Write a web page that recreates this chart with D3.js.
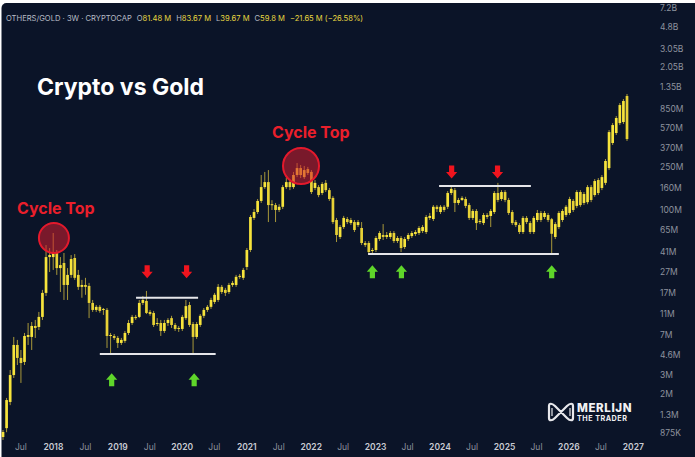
<!DOCTYPE html>
<html><head><meta charset="utf-8">
<script src="https://cdn.jsdelivr.net/npm/d3@7"></script>
<style>body{margin:0;background:#fff}svg{display:block}</style>
</head><body>
<svg id="c" width="695" height="457"></svg>
<script>
// ---- data (values in millions, OTHERS/GOLD, 3W candles) ----
const openV = [0.804,0.97,1.69,2.99,5.66,4.30,3.95,6.71,6.71,8.47,8.29,10.26,17.07,36.5,36.5,39.8,28.9,32.2,20.2,25.0,35.8,25.0,19.4,20.2,19.8,13.8,11.9,12.7,11.9,11.9,6.85,6.85,6.57,5.91,6.17,7.30,9.02,10.26,10.26,13.8,14.4,11.4,11.16,8.83,9.02,7.62,9.02,10.0,8.65,7.95,7.95,10.0,13.2,8.83,6.71,8.65,10.5,11.9,12.7,14.1,14.7,19.4,18.2,17.4,20.2,20.2,24.0,23.5,29.6,42.4,83.7,94.9,120,161,179,110,110,99.1,106,161,179,161,208,241,199,236,222,158,161,142,176,151,128,80.1,55.9,69.0,81.8,75.1,76.7,72.0,67.6,49.2,49.2,41.5,42.4,53.5,58.3,55.9,55.9,60.8,51.3,54.7,45.2,53.5,57.0,59.5,60.8,63.4,62.1,83.7,81.8,106,94.9,106,106,142,151,115,122.5,125,110,83.7,97.0,76.7,75.1,89.1,87.2,94.9,142,125,145,122.5,94.9,76.7,72.0,62.1,83.7,75.1,62.1,80.1,93.0,85.4,89.1,81.48,55.9,69.0,80.1,89.1,93.0,120,108,145,115,117,161,136,187,158,176,241,410,507,626,640,1111];
const highV = [0.933,1.84,3.33,6.71,6.30,5.09,7.30,9.02,9.22,9.62,11.4,18.2,47.1,44.2,60.8,42.4,36.5,39.8,28.9,38.1,38.9,27.8,22.5,23.5,21.1,14.7,13.2,13.2,12.4,12.4,7.30,7.14,6.85,6.57,7.62,9.62,10.7,10.7,14.7,16.0,17.8,11.9,11.65,10.0,9.62,9.62,10.0,10.5,9.02,8.47,10.7,14.7,14.1,9.22,9.22,10.9,12.4,13.2,15.4,17.07,20.6,20.2,19.0,21.1,22.0,25.0,25.5,29.0,44.2,89.1,101,125,208,222,231,122,115,112,168,195,187,222,268,257,252,247,231,187,168,179,187,158,133,83.7,72.0,87.4,85.4,83.7,80.1,80.1,76.7,51.3,51.3,44.2,57.0,63.4,73.5,62.1,63.4,63.4,57.0,57.0,55.9,60.8,63.4,64.8,70.5,72.0,89.1,93.0,110,110,110,110,148,165,158,128,133,131,115,101,101,81.8,93.0,93.0,101,148,176,151,151,128,99.1,80.1,75.1,87.2,87.2,78.4,87.2,99.1,97.0,97.0,93.0,83.67,76.7,97.0,101,110,131,125,151,151,145,168,168,191,195,208,292,540,626,726,957,1042,1159];
const lowV = [0.755,0.89,1.58,2.81,3.70,2.53,3.70,5.66,5.09,6.57,7.78,9.62,16.0,26.6,27.8,25.0,17.4,14.7,14.7,23.5,22.5,18.2,15.4,16.4,10.0,11.4,11.4,11.2,10.7,5.31,4.77,6.30,5.31,5.66,5.91,6.99,8.65,9.62,10.0,13.2,10.9,10.5,8.29,8.47,6.85,7.30,8.47,8.12,7.62,7.46,7.62,9.62,8.29,4.58,6.43,8.29,10.0,11.4,12.15,13.5,14.1,16.7,16.0,16.7,19.4,19.4,23.0,22.5,27.8,40.6,80.1,91.0,115,155,76.7,99,76.7,94.9,101,155,151,155,199,195,191,208,139,151,130,136,145,120,73.5,50.2,53.5,66.2,73.5,72.0,62.1,69.0,47.1,45.2,38.9,38.9,40.6,51.3,52.4,53.5,53.5,49.2,49.2,40.6,43.3,51.3,54.7,57.0,58.3,60.8,59.5,80.1,78.4,94.9,91.0,94.9,101,136,94.9,110,120,103,80.1,80.1,64.8,73.5,72.0,81.8,69.0,91.0,117,120,117,89.1,72.0,69.0,59.5,59.5,73.5,59.5,59.5,76.7,76.7,81.8,76.7,39.67,53.5,66.2,76.7,85.4,89.1,94.9,103,106,110,112,117,131,136,151,168,231,393,486,600,613,428];
const closeV = [0.894,1.76,2.99,5.66,4.30,3.86,6.85,6.99,8.47,8.12,10.26,17.07,36.5,38.1,40.6,28.9,30.8,20.2,25.0,35.0,23.5,19.4,20.2,19.4,13.8,11.9,12.7,11.65,12.15,6.85,6.99,6.57,5.91,6.30,7.30,9.02,10.26,10.0,13.8,14.7,11.16,10.9,8.65,9.02,7.62,9.02,9.62,8.65,7.95,8.12,10.26,12.9,8.65,6.71,8.83,10.5,11.9,12.7,14.7,16.4,19.4,17.4,17.07,20.2,21.1,24.0,24.5,27.8,42.4,85.4,94.9,120,161,179,110,112,99.1,106,161,179,161,208,241,208,231,217,145,176,136,172,151,125,76.7,58.3,69.0,83.7,76.7,80.1,64.8,76.7,49.2,47.1,40.6,42.4,54.7,60.8,55.9,58.3,60.8,51.3,54.7,44.2,53.5,58.3,60.8,62.1,67.6,69.0,85.4,87.4,106,101,106,99.1,142,155,115,122.5,128,108,83.7,97.0,75.1,78.4,89.1,85.4,97.0,142,122.5,145,122.5,93.0,75.1,72.0,62.1,83.7,76.7,62.1,83.7,93.0,80.1,93.0,80.1,59.8,73.5,93.0,97.0,106,125,99.1,145,110,139,161,122.5,183,142,199,280,517,600,697,917,999,446];
const firstCandle = new Date(2017, 2, 24);
const lastCandle  = new Date(2026, 10, 29);

const yTickLabels = ["7.2B","4.8B","3.05B","2.05B","1.35B","850M","570M","370M","250M","160M","100M","65M","41M","27M","17M","11M","7M","4.6M","3M","2M","1.3M","875K"];
const yTickValues = [7.2e9,4.8e9,3.05e9,2.05e9,1.35e9,850e6,570e6,370e6,250e6,160e6,100e6,65e6,41e6,27e6,17e6,11e6,7e6,4.6e6,3e6,2e6,1.3e6,875e3];
const xTickDates  = ["2017-07","2018-01","2018-07","2019-01","2019-07","2020-01","2020-07","2021-01","2021-07","2022-01","2022-07","2023-01","2023-07","2024-01","2024-07","2025-01","2025-07","2026-01","2026-07","2027-01"];
const xTickLabels = ["Jul","2018","Jul","2019","Jul","2020","Jul","2021","Jul","2022","Jul","2023","Jul","2024","Jul","2025","Jul","2026","Jul","2027"];

// annotations: [candle index, value]
const supportLines = [[27,59.3,4.67e6],[37.1,54.4,15.4e6],[101.8,155,38.9e6],[121.6,147.2,164.7e6]];
const cycleTops = [[14.2,54.7e6,15],[83.1,252e6,18]];
const downArrows = [[40.2,26.8e6],[51.2,26.8e6],[125.1,221.7e6],[137.9,221.7e6]];
const upArrows = [[30.3,2.70e6],[53.3,2.70e6],[103,26.8e6],[111.1,26.8e6],[153,26.8e6]];

// ---- chart ----
const svg = d3.select("#c");
svg.append("rect").attr("x",0).attr("y",0).attr("width",695).attr("height",457).attr("fill","#ffffff");
svg.append("rect").attr("x",1.5).attr("y",3).attr("width",710).attr("height",470).attr("rx",5).attr("fill","#0b1428");

const n = openV.length;
const step = (lastCandle - firstCandle)/(n-1);
const candles = openV.map((o,i)=>({date:new Date(+firstCandle + i*step), o:o*1e6, h:highV[i]*1e6, l:lowV[i]*1e6, c:closeV[i]*1e6}));
const x = d3.scaleTime().domain([firstCandle,lastCandle]).range([3,627]);
const y = d3.scaleLog().domain([875e3,4.8e9]).range([433,27]);
const xi = i => x(new Date(+firstCandle + i*step));

// axes
const yAxis = svg.append("g").attr("transform","translate(656,0)")
  .call(d3.axisRight(y).tickValues(yTickValues).tickFormat((d,i)=>yTickLabels[i]).tickSize(0).tickPadding(4));
yAxis.select(".domain").remove();
yAxis.selectAll("text").attr("fill","#8d929e").style("font-family","Inter, 'Noto Sans', sans-serif").style("font-size","8.5px");

const parse = d3.timeParse("%Y-%m");
const xAxis = svg.append("g").attr("transform","translate(0,438)")
  .call(d3.axisBottom(x).tickValues(xTickDates.map(parse)).tickFormat((d,i)=>xTickLabels[i]).tickSize(0).tickPadding(6));
xAxis.select(".domain").remove();
xAxis.selectAll("text")
  .attr("fill",(d,i)=>xTickLabels[i]==="Jul"?"#8d929e":"#c9ccd4")
  .style("font-weight",(d,i)=>xTickLabels[i]==="Jul"?400:600)
  .style("font-family","Inter, 'Noto Sans', sans-serif").style("font-size","8.5px");

// candles
const cg = svg.append("g");
cg.selectAll("line").data(candles).join("line")
  .attr("x1",d=>x(d.date)).attr("x2",d=>x(d.date))
  .attr("y1",d=>y(d.h)).attr("y2",d=>y(d.l))
  .attr("stroke","#a8983a").attr("stroke-width",1);
cg.selectAll("rect").data(candles).join("rect")
  .attr("x",d=>x(d.date)-1.35).attr("width",2.7)
  .attr("y",d=>y(Math.max(d.o,d.c)))
  .attr("height",d=>Math.max(1,Math.abs(y(d.o)-y(d.c))))
  .attr("fill",d=>d.c>=d.o?"#f7e43c":"#e8d236");

// header
const hdr = svg.append("text").attr("x",6).attr("y",21)
  .style("font-family","Inter, 'Noto Sans', sans-serif").style("font-size","7.6px");
hdr.append("tspan").attr("fill","#b8bcc6").text("OTHERS/GOLD · 3W · CRYPTOCAP");
[["O","81.48 M"],["H","83.67 M"],["L","39.67 M"],["C","59.8 M"]].forEach(([k,v])=>{
  hdr.append("tspan").attr("dx",5).attr("fill","#b8bcc6").text(k);
  hdr.append("tspan").attr("fill","#e6d640").text(v);
});
hdr.append("tspan").attr("dx",5).attr("fill","#e6d640").text("−21.65 M (−26.58%)");

// title
svg.append("text").attr("x",37).attr("y",95).text("Crypto vs Gold")
  .attr("fill","#ffffff").style("font-family","Inter, sans-serif").style("font-weight",700).style("font-size","23px");

// support / resistance lines
svg.append("g").selectAll("line").data(supportLines).join("line")
  .attr("x1",d=>xi(d[0])).attr("x2",d=>xi(d[1])).attr("y1",d=>y(d[2])).attr("y2",d=>y(d[2]))
  .attr("stroke","#e6e6ea").attr("stroke-width",2);

// cycle tops
svg.append("g").selectAll("circle").data(cycleTops).join("circle")
  .attr("cx",d=>xi(d[0])).attr("cy",d=>y(d[1])).attr("r",d=>d[2])
  .attr("fill","rgba(214,30,45,0.55)").attr("stroke","#e3192c").attr("stroke-width",2);
const red = "#ea1f2b";
svg.append("text").attr("x",17).attr("y",214).text("Cycle Top").attr("fill",red)
  .style("font-family","Inter, sans-serif").style("font-weight",700).style("font-size","16px");
svg.append("text").attr("x",272).attr("y",138).text("Cycle Top").attr("fill",red)
  .style("font-family","Inter, sans-serif").style("font-weight",700).style("font-size","16px");

// arrows
function arrowPath(dir){ // centered at 0,0; dir=1 down, -1 up
  const pts = [[-2.6,-6.5],[2.6,-6.5],[2.6,0],[5.6,0],[0,6.5],[-5.6,0],[-2.6,0]];
  return "M"+pts.map(p=>[p[0],p[1]*dir].join(",")).join("L")+"Z";
}
svg.append("g").selectAll("path").data(downArrows).join("path")
  .attr("d",arrowPath(1)).attr("transform",d=>`translate(${xi(d[0])},${y(d[1])})`).attr("fill","#f0141e");
svg.append("g").selectAll("path").data(upArrows).join("path")
  .attr("d",arrowPath(-1)).attr("transform",d=>`translate(${xi(d[0])},${y(d[1])})`).attr("fill","#5fd62a");

// logo
const lg = svg.append("g").attr("transform","translate(561,412)");
lg.append("path").attr("d","M-12,-6 C-12,-9 -9,-9 -6,-6 L6,6 C9,9 12,9 12,6 L12,-6 C12,-9 9,-9 6,-6 L-6,6 C-9,9 -12,9 -12,6 Z")
  .attr("fill","none").attr("stroke","#e8e8ec").attr("stroke-width",2.2);
lg.append("path").attr("d","M-9,-4 L-9,4 M9,-4 L9,4").attr("stroke","#e8e8ec").attr("stroke-width",1.2);
svg.append("text").attr("x",577).attr("y",412).text("MERLIJN").attr("fill","#f2f2f4")
  .style("font-family","Inter, sans-serif").style("font-weight",800).style("font-size","11.5px").style("letter-spacing","0.6px");
svg.append("text").attr("x",577).attr("y",421).text("THE TRADER").attr("fill","#f2f2f4")
  .style("font-family","Inter, sans-serif").style("font-weight",700).style("font-size","7.2px").style("letter-spacing","0.5px");
</script>
</body></html>
